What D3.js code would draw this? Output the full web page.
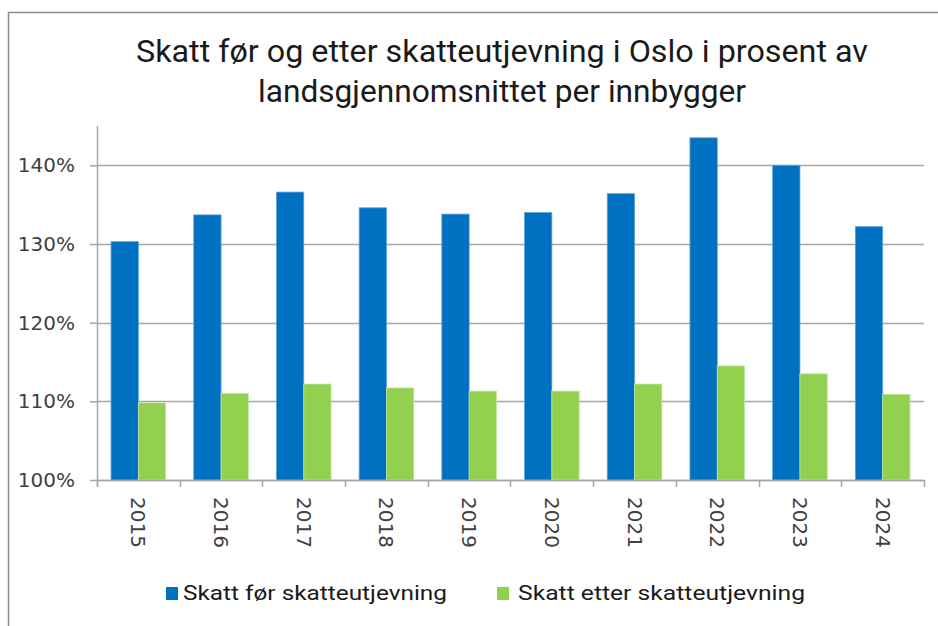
<!DOCTYPE html>
<html>
<head>
<meta charset="utf-8">
<script src="https://cdn.jsdelivr.net/npm/d3@7"></script>
<style>
  body { margin: 0; background: #fff; }
  svg { display: block; }
</style>
</head>
<body>
<svg id="chart" width="938" height="626"></svg>
<script>
var years = ["2015", "2016", "2017", "2018", "2019", "2020", "2021", "2022", "2023", "2024"];
var forValues = [130.3, 133.7, 136.6, 134.6, 133.8, 134.0, 136.4, 143.5, 140.0, 132.2];
var etterValues = [109.8, 111.0, 112.2, 111.7, 111.3, 111.3, 112.2, 114.5, 113.5, 110.9];
var yTicks = [100, 110, 120, 130, 140];
var seriesNames = ["Skatt før skatteutjevning", "Skatt etter skatteutjevning"];
var titleLines = ["Skatt før og etter skatteutjevning i Oslo i prosent av", "landsgjennomsnittet per innbygger"];

var colors = ["#0070C0", "#92D050"];

var svg = d3.select("#chart");

// outer chart frame (cut off at right and bottom like the picture)
svg.append("rect")
  .attr("x", 8.5).attr("y", 12.5)
  .attr("width", 1000).attr("height", 700)
  .attr("fill", "none")
  .attr("stroke", "#8c8c8c")
  .attr("stroke-width", 1.5);

// title
var titleWidths = [732, 488];
svg.selectAll(".title")
  .data(titleLines)
  .enter().append("text")
    .attr("class", "title")
    .attr("x", 502)
    .attr("y", function(d, i) { return 62 + i * 40; })
    .attr("text-anchor", "middle")
    .attr("font-family", "Roboto, sans-serif")
    .attr("font-size", 31)
    .attr("fill", "#1a1a1a")
    .attr("textLength", function(d, i) { return titleWidths[i]; })
    .attr("lengthAdjust", "spacingAndGlyphs")
    .text(function(d) { return d; });

var plotLeft = 97, plotRight = 924, plotTop = 126, plotBottom = 480;

var x = d3.scaleBand()
  .domain(years)
  .range([plotLeft, plotRight])
  .paddingInner(0.34)
  .paddingOuter(0.17);

var xSub = d3.scaleBand()
  .domain([0, 1])
  .range([0, x.bandwidth()]);

var y = d3.scaleLinear()
  .domain([100, 145])
  .range([plotBottom, plotTop]);

// gridlines
svg.append("g")
  .selectAll("line")
  .data(yTicks)
  .enter().append("line")
    .attr("x1", plotLeft).attr("x2", plotRight)
    .attr("y1", function(d) { return Math.round(y(d)) + 0.5; })
    .attr("y2", function(d) { return Math.round(y(d)) + 0.5; })
    .attr("stroke", "#a6a6a6")
    .attr("stroke-width", 1.5);

// bars
var groups = svg.append("g")
  .selectAll("g")
  .data(years)
  .enter().append("g")
    .attr("transform", function(d) { return "translate(" + x(d) + ",0)"; });

groups.selectAll("rect")
  .data(function(d, i) { return [forValues[i], etterValues[i]]; })
  .enter().append("rect")
    .attr("x", function(d, j) { return xSub(j); })
    .attr("y", function(d) { return y(d); })
    .attr("width", xSub.bandwidth())
    .attr("height", function(d) { return y(100) - y(d); })
    .attr("fill", function(d, j) { return colors[j]; })
    .attr("stroke", function(d, j) { return j === 0 ? "#5aa0dc" : "#c2e6a0"; })
    .attr("stroke-width", 0.8);

// y axis
var yAxis = svg.append("g")
  .attr("transform", "translate(" + plotLeft + ",0)")
  .call(d3.axisLeft(y)
    .tickValues(yTicks)
    .tickSize(7)
    .tickPadding(15)
    .tickFormat(function(d) { return d + "%"; }));
yAxis.select(".domain")
  .attr("d", "M0.5," + plotTop + "V" + (plotBottom + 7))
  .attr("stroke", "#a6a6a6")
  .attr("stroke-width", 1.5);
yAxis.selectAll(".tick line").attr("stroke", "#a6a6a6").attr("stroke-width", 1.5);
yAxis.selectAll(".tick text")
  .attr("font-family", "DejaVu Sans, sans-serif")
  .attr("font-size", 20)
  .attr("fill", "#404040");

// x axis: ticks between categories
var boundaries = years.map(function(d) { return x(d) - x.step() * x.paddingInner() / 2; });
boundaries.push(plotRight);
svg.append("line")
  .attr("x1", plotLeft).attr("x2", plotRight)
  .attr("y1", plotBottom + 0.5).attr("y2", plotBottom + 0.5)
  .attr("stroke", "#a6a6a6").attr("stroke-width", 1.5);
svg.append("g")
  .selectAll("line")
  .data(boundaries)
  .enter().append("line")
    .attr("x1", function(d) { return Math.round(d) + 0.5; })
    .attr("x2", function(d) { return Math.round(d) + 0.5; })
    .attr("y1", plotBottom).attr("y2", plotBottom + 7)
    .attr("stroke", "#a6a6a6").attr("stroke-width", 1.5);

svg.append("g")
  .selectAll("text")
  .data(years)
  .enter().append("text")
    .attr("transform", function(d) {
      return "translate(" + (x(d) + x.bandwidth() / 2) + "," + (plotBottom + 17) + ") rotate(90)";
    })
    .attr("dy", "0.35em")
    .attr("font-family", "DejaVu Sans, sans-serif")
    .attr("font-size", 20)
    .attr("fill", "#404040")
    .text(function(d) { return d; });

// legend
var legendX = [166, 497];
var legendW = [264, 287];
var legend = svg.append("g")
  .selectAll("g")
  .data(seriesNames)
  .enter().append("g")
    .attr("transform", function(d, i) { return "translate(" + legendX[i] + ",587)"; });
legend.append("rect")
  .attr("width", 12).attr("height", 13)
  .attr("fill", function(d, i) { return colors[i]; });
legend.append("text")
  .attr("x", function(d, i) { return i === 0 ? 17 : 21; })
  .attr("y", 13)
  .attr("font-family", "Roboto, sans-serif")
  .attr("font-size", 21)
  .attr("fill", "#1a1a1a")
  .attr("textLength", function(d, i) { return legendW[i]; })
  .attr("lengthAdjust", "spacingAndGlyphs")
  .text(function(d) { return d; });
</script>
</body>
</html>
